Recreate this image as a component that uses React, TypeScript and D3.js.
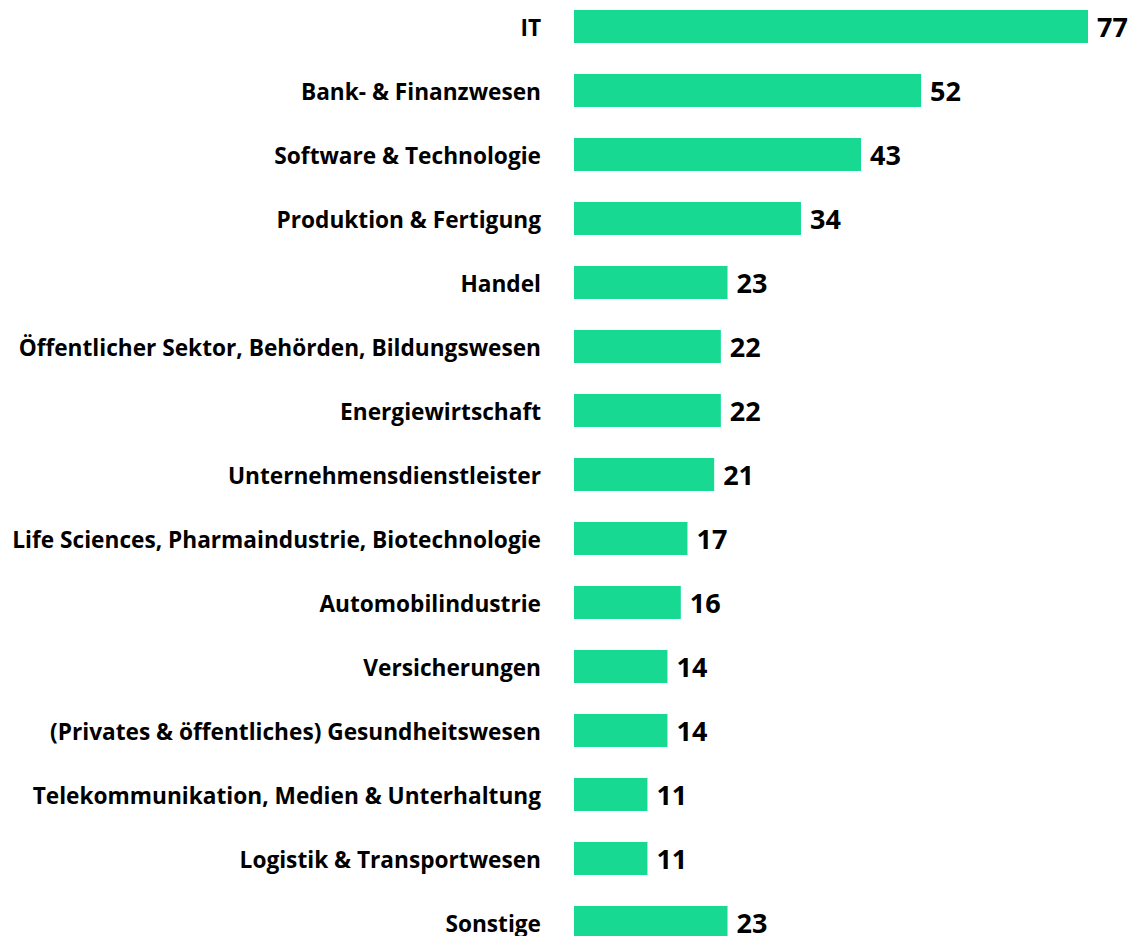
import React, { useEffect, useRef } from "react";
import * as d3 from "d3";

const categories = [
  "IT",
  "Bank- & Finanzwesen",
  "Software & Technologie",
  "Produktion & Fertigung",
  "Handel",
  "Öffentlicher Sektor, Behörden, Bildungswesen",
  "Energiewirtschaft",
  "Unternehmensdienstleister",
  "Life Sciences, Pharmaindustrie, Biotechnologie",
  "Automobilindustrie",
  "Versicherungen",
  "(Privates & öffentliches) Gesundheitswesen",
  "Telekommunikation, Medien & Unterhaltung",
  "Logistik & Transportwesen",
  "Sonstige",
];
const values = [77, 52, 43, 34, 23, 22, 22, 21, 17, 16, 14, 14, 11, 11, 23];

const width = 1135;
const height = 936;
const font = "'Open Sans', 'Noto Sans', sans-serif";

export default function App() {
  const ref = useRef<SVGSVGElement>(null);

  useEffect(() => {
    const svg = d3.select(ref.current);
    svg.selectAll("*").remove();

    const data = categories.map((c, i) => ({ name: c, value: values[i] }));

    const y = d3
      .scaleBand()
      .domain(categories)
      .range([-5.5, -5.5 + 64 * categories.length])
      .paddingInner(0.484)
      .paddingOuter(0.242);

    const x = d3.scaleLinear().domain([0, 77]).range([574, 1088]);

    // bars
    svg
      .selectAll(".bar")
      .data(data)
      .join("rect")
      .attr("class", "bar")
      .attr("x", x(0))
      .attr("y", (d) => y(d.name)!)
      .attr("width", (d) => x(d.value) - x(0))
      .attr("height", y.bandwidth())
      .attr("fill", "#17d992");

    // category labels
    const labels = svg
      .selectAll(".label")
      .data(data)
      .join("text")
      .attr("class", "label")
      .attr("x", 541)
      .attr("y", (d) => y(d.name)! + y.bandwidth() / 2)
      .attr("dy", "0.4em")
      .attr("text-anchor", "end")
      .attr("font-family", font)
      .attr("font-weight", "700")
      .attr("font-size", "20px")
      .attr("fill", "#000")
      .text((d) => d.name);

    // fit longest label to the reference width (~529px)
    let maxW = 0;
    labels.each(function () {
      maxW = Math.max(maxW, (this as SVGTextElement).getComputedTextLength());
    });
    if (maxW > 0) {
      const fs = Math.min(24, (20 * 529) / maxW);
      labels.attr("font-size", `${fs}px`);
    }

    // value labels
    svg
      .selectAll(".value")
      .data(data)
      .join("text")
      .attr("class", "value")
      .attr("x", (d) => x(d.value) + 9)
      .attr("y", (d) => y(d.name)! + y.bandwidth() / 2)
      .attr("dy", "0.38em")
      .attr("font-family", font)
      .attr("font-weight", "700")
      .attr("font-size", "27px")
      .attr("fill", "#000")
      .text((d) => d.value);
  }, []);

  return (
    <svg
      ref={ref}
      width={width}
      height={height}
      style={{ position: "absolute", left: 0, top: 0, background: "#fff" }}
    />
  );
}
